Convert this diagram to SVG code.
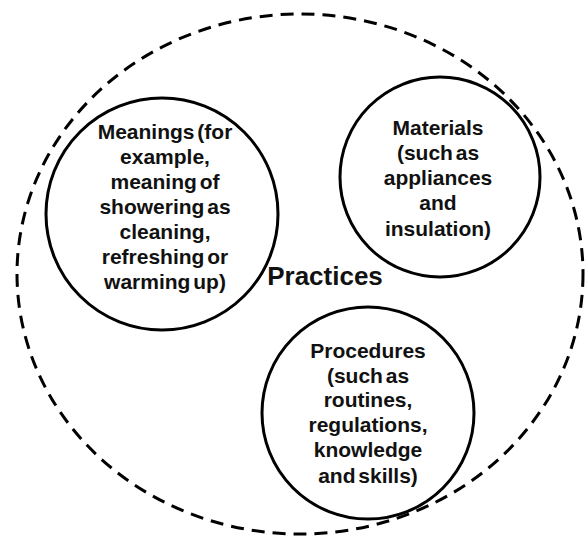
<svg xmlns="http://www.w3.org/2000/svg" width="586" height="538" viewBox="0 0 586 538">
<style>
.outer{fill:none;stroke:#000;stroke-width:3;stroke-dasharray:13 8}
.node{fill:none;stroke:#000;stroke-width:3}
text{font-family:"Liberation Sans",Arial,sans-serif;font-weight:bold;fill:#111;text-anchor:middle}
.lbl{font-size:21px;word-spacing:-3px}
.title{font-size:26px}
</style>
<rect width="586" height="538" fill="#fff"/>
<g id="practices">
<ellipse class="outer" cx="300" cy="274" rx="283" ry="260"/>
<text class="title" x="325" y="285">Practices</text>
</g>
<g id="meanings">
<circle class="node" cx="162" cy="214" r="116"/>
<text class="lbl" x="165" y="139">Meanings (for</text>
<text class="lbl" x="165" y="164">example,</text>
<text class="lbl" x="165" y="189">meaning of</text>
<text class="lbl" x="165" y="214">showering as</text>
<text class="lbl" x="165" y="239">cleaning,</text>
<text class="lbl" x="165" y="264">refreshing or</text>
<text class="lbl" x="165" y="289">warming up)</text>
</g>
<g id="materials">
<circle class="node" cx="440" cy="177" r="100"/>
<text class="lbl" x="438" y="135">Materials</text>
<text class="lbl" x="438" y="160">(such as</text>
<text class="lbl" x="438" y="185">appliances</text>
<text class="lbl" x="438" y="210">and</text>
<text class="lbl" x="438" y="236">insulation)</text>
</g>
<g id="procedures">
<circle class="node" cx="368" cy="413" r="106"/>
<text class="lbl" x="368" y="358">Procedures</text>
<text class="lbl" x="368" y="383">(such as</text>
<text class="lbl" x="368" y="407">routines,</text>
<text class="lbl" x="368" y="432">regulations,</text>
<text class="lbl" x="368" y="457">knowledge</text>
<text class="lbl" x="368" y="483">and skills)</text>
</g>
<g id="connectors"></g>
</svg>
